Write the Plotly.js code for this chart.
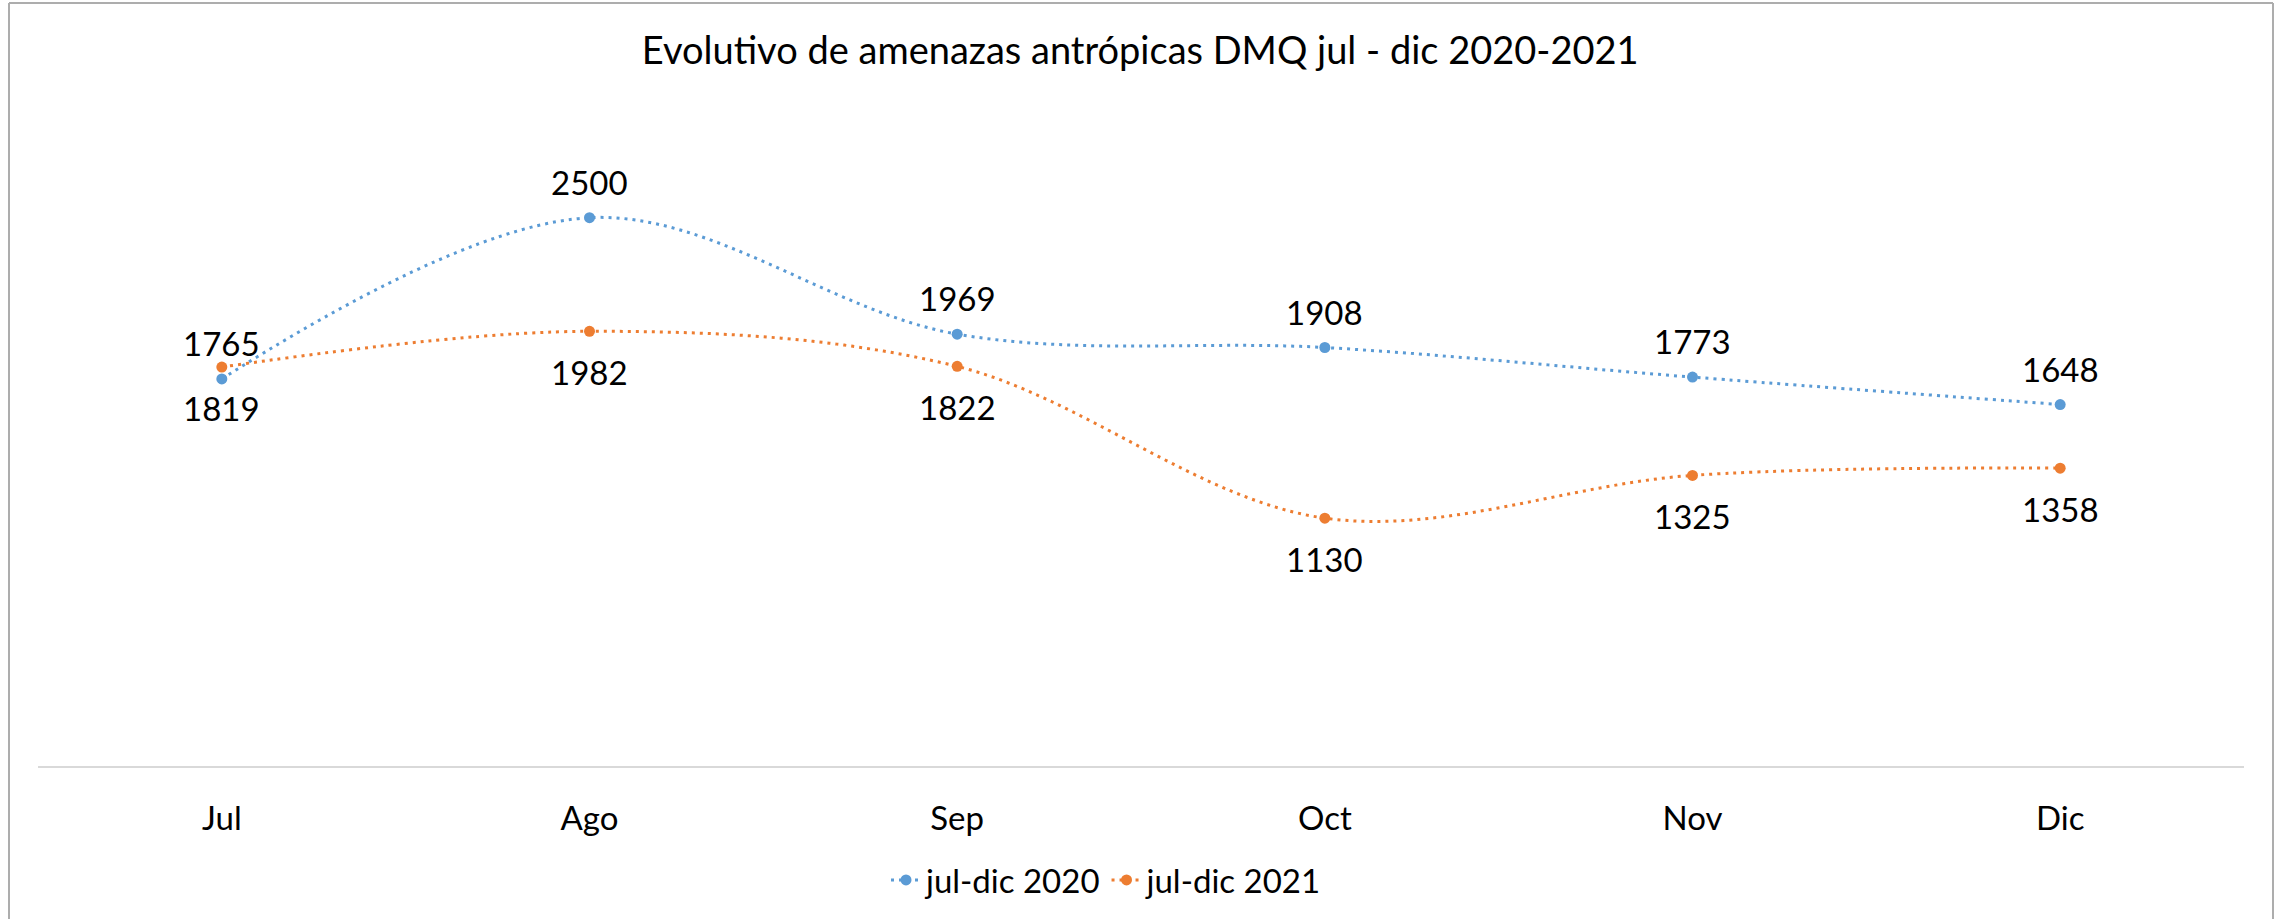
<!DOCTYPE html>
<html>
<head>
<meta charset="utf-8">
<script src="https://cdn.plot.ly/plotly-3.0.1.min.js"></script>
<style>
  body { margin: 0; background: #fff; }
  #chart { width: 2285px; height: 919px; }
</style>
</head>
<body>
<div id="chart"></div>
<script>
var meses = ['Jul', 'Ago', 'Sep', 'Oct', 'Nov', 'Dic'];
var valores2020 = [1765, 2500, 1969, 1908, 1773, 1648];
var valores2021 = [1819, 1982, 1822, 1130, 1325, 1358];
var nombres = ['jul-dic 2020', 'jul-dic 2021'];

var azul = '#5B9BD5';
var naranja = '#ED7D31';
var fuente = 'Lato, "Open Sans", sans-serif';

function serie(valores, nombre, color){
    return {
        x: meses,
        y: valores,
        name: nombre,
        type: 'scatter',
        mode: 'lines+markers',
        line: { color: color, width: 3, dash: '3px,5px', shape: 'spline', smoothing: 1 },
        marker: { color: color, size: 11 },
        hoverinfo: 'x+y'
    };
}

// etiquetas de datos: 2020 arriba, 2021 abajo
var etiquetas = [];
meses.forEach(function(m, i){
    etiquetas.push({ x: m, y: valores2020[i], text: String(valores2020[i]), showarrow: false,
        yshift: 36, font: { family: fuente, size: 33, color: '#000' } });
    etiquetas.push({ x: m, y: valores2021[i], text: String(valores2021[i]), showarrow: false,
        yshift: -41, font: { family: fuente, size: 33, color: '#000' } });
});

// marco del grafico (px -> paper)
var l = 38, r = 41, t = 108, b = 153;
var ancho = 2285 - l - r, alto = 919 - t - b;
function px(x){ return (x - l) / ancho; }
function py(y){ return (919 - b - y) / alto; }
var borde = { color: '#ADADAD', width: 2 };
var marco = [
    { type: 'line', xref: 'paper', yref: 'paper', x0: px(9), x1: px(9), y0: py(3), y1: py(930), line: borde },
    { type: 'line', xref: 'paper', yref: 'paper', x0: px(9), x1: px(2273), y0: py(3), y1: py(3), line: borde },
    { type: 'line', xref: 'paper', yref: 'paper', x0: px(2273), x1: px(2273), y0: py(3), y1: py(930), line: borde }
];

var layout = {
    width: 2285,
    height: 919,
    margin: { l: l, r: r, t: t, b: b },
    paper_bgcolor: '#fff',
    plot_bgcolor: '#fff',
    font: { family: fuente, size: 33, color: '#000' },
    title: {
        text: 'Evolutivo de amenazas antrópicas DMQ jul - dic 2020-2021',
        font: { family: fuente, size: 38, color: '#000' },
        xref: 'container', x: 0.499, xanchor: 'center',
        yref: 'container', y: 1 - 51 / 919, yanchor: 'middle'
    },
    xaxis: {
        type: 'category',
        range: [-0.5, meses.length - 0.5],
        showgrid: false,
        showline: true,
        linecolor: '#D9D9D9',
        linewidth: 2,
        ticks: '',
        ticklabelstandoff: 22,
        tickfont: { family: fuente, size: 33, color: '#000' },
        zeroline: false,
        fixedrange: true
    },
    yaxis: {
        range: [0, 3000],
        visible: false,
        showgrid: false,
        zeroline: false
    },
    showlegend: true,
    legend: {
        orientation: 'h',
        xref: 'container', x: 1107 / 2285, xanchor: 'center',
        yref: 'container', y: 1 - 880 / 919, yanchor: 'middle',
        font: { family: fuente, size: 33, color: '#000' }
    },
    annotations: etiquetas,
    shapes: marco
};

Plotly.newPlot('chart', [serie(valores2020, nombres[0], azul), serie(valores2021, nombres[1], naranja)], layout, { displayModeBar: false, staticPlot: true });
</script>
</body>
</html>
